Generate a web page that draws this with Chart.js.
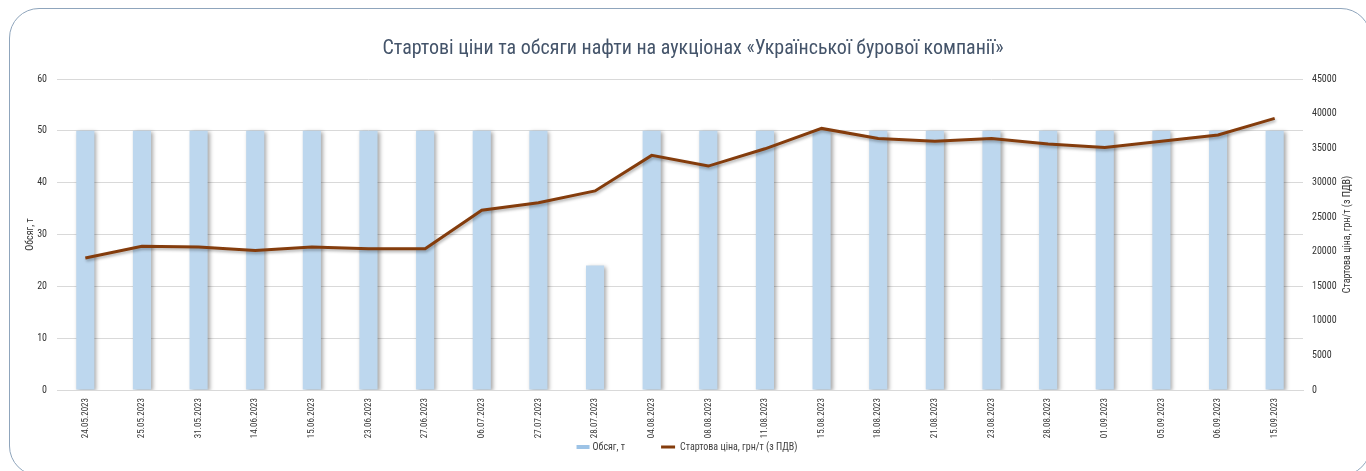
<!DOCTYPE html>
<html>
<head>
    <title>Стартові ціни та обсяги нафти</title>
    <script src="https://cdn.jsdelivr.net/npm/chart.js@4/dist/chart.umd.min.js"></script>
    <style>
        body { margin: 0; background: #fff; overflow: hidden; }
        #wrap { position: relative; width: 1366px; height: 471px; }
        #frame {
            position: absolute; left: 9px; top: 8px; width: 1362px; height: 468px;
            border: 1px solid #8FA5BC; border-radius: 30px; box-sizing: border-box;
        }
        canvas { position: absolute; left: 0; top: 0; }
    </style>
</head>
<body>
<div id="wrap">
    <div id="frame"></div>
    <canvas id="myChart" width="1366" height="471"></canvas>
</div>
<script>
    var dates = ['24.05.2023', '25.05.2023', '31.05.2023', '14.06.2023', '15.06.2023', '23.06.2023',
        '27.06.2023', '06.07.2023', '27.07.2023', '28.07.2023', '04.08.2023', '08.08.2023',
        '11.08.2023', '15.08.2023', '18.08.2023', '21.08.2023', '23.08.2023', '28.08.2023',
        '01.09.2023', '05.09.2023', '06.09.2023', '15.09.2023'];
    var volume = [50, 50, 50, 50, 50, 50, 50, 50, 50, 24, 50, 50, 50, 50, 50, 50, 50, 50, 50, 50, 50, 50];
    var price = [19100, 20800, 20700, 20200, 20700, 20450, 20450, 26000, 27100, 28800, 33950, 32400,
        34900, 37850, 36400, 36000, 36400, 35600, 35100, 36000, 36900, 39300];

    var chartTitle = 'Стартові ціни та обсяги нафти на аукціонах «Української бурової компанії»';
    var leftTitle = 'Обсяг, т';
    var rightTitle = 'Стартова ціна, грн/т (з ПДВ)';

    var fontFam = '"Roboto Condensed", Roboto, sans-serif';
    var textColor = '#333333';

    // shadow under bars and the line
    var shadowPlugin = {
        id: 'shadows',
        beforeDatasetDraw: function (chart, args) {
            var c = chart.ctx;
            c.save();
            if (args.meta.type === 'bar') {
                c.shadowColor = 'rgba(0,0,0,0.35)';
                c.shadowBlur = 4;
                c.shadowOffsetX = 2;
                c.shadowOffsetY = 1;
            } else {
                c.shadowColor = 'rgba(0,0,0,0.3)';
                c.shadowBlur = 3;
                c.shadowOffsetX = 1;
                c.shadowOffsetY = 2;
            }
        },
        afterDatasetDraw: function (chart) {
            chart.ctx.restore();
        }
    };

    // right axis title (bottom-to-top) and the legend under the axis labels
    var extrasPlugin = {
        id: 'extras',
        afterDraw: function (chart) {
            var c = chart.ctx;
            var area = chart.chartArea;
            c.save();
            c.font = '10px ' + fontFam;
            c.fillStyle = textColor;
            c.textBaseline = 'middle';

            c.save();
            c.translate(1347, (area.top + area.bottom) / 2);
            c.rotate(-Math.PI / 2);
            c.textAlign = 'center';
            c.fillText(rightTitle, 0, 0);
            c.restore();

            var ds = chart.data.datasets;
            var sw = [13, 14], sh = [4, 3], cols = ['#9DC3E6', '#843C0C'];
            var w0 = c.measureText(ds[0].label).width;
            var w1 = c.measureText(ds[1].label).width;
            var total = sw[0] + 3 + w0 + 36 + sw[1] + 5 + w1;
            var x = 687 - total / 2;
            var y = 447;
            c.textAlign = 'left';
            c.fillStyle = cols[0];
            c.fillRect(x, y - sh[0] / 2, sw[0], sh[0]);
            x += sw[0] + 3;
            c.fillStyle = '#404040';
            c.fillText(ds[0].label, x, y);
            x += w0 + 36;
            c.fillStyle = cols[1];
            c.fillRect(x, y - sh[1] / 2, sw[1], sh[1]);
            x += sw[1] + 5;
            c.fillStyle = '#404040';
            c.fillText(ds[1].label, x, y);
            c.restore();
        }
    };

    var ctx = document.getElementById('myChart').getContext('2d');
    var chart = new Chart(ctx, {
        type: 'bar',
        data: {
            labels: dates,
            datasets: [{
                type: 'bar',
                label: 'Обсяг, т',
                data: volume,
                yAxisID: 'y',
                backgroundColor: '#BDD7EE',
                borderWidth: 0,
                barPercentage: 0.32,
                categoryPercentage: 1,
                order: 1
            }, {
                type: 'line',
                label: 'Стартова ціна, грн/т (з ПДВ)',
                data: price,
                yAxisID: 'y1',
                borderColor: '#843C0C',
                backgroundColor: '#843C0C',
                borderWidth: 3,
                pointRadius: 0,
                tension: 0,
                fill: false,
                order: 0
            }]
        },
        options: {
            responsive: false,
            animation: false,
            layout: { padding: { left: 20, right: 0, top: 0, bottom: 21 } },
            plugins: {
                title: {
                    display: true,
                    text: chartTitle,
                    color: '#44546A',
                    font: { family: fontFam, size: 20, weight: 'normal', lineHeight: 1.2 },
                    padding: { top: 37, bottom: 18 }
                },
                legend: { display: false },
                tooltip: { enabled: false }
            },
            scales: {
                x: {
                    grid: { display: false },
                    border: { display: true, color: '#D9D9D9' },
                    ticks: {
                        color: textColor,
                        font: { family: fontFam, size: 9 },
                        maxRotation: 90,
                        minRotation: 90,
                        padding: 0,
                        autoSkip: false
                    },
                    afterFit: function (scale) { scale.height = 60; }
                },
                y: {
                    position: 'left',
                    min: 0,
                    max: 60,
                    ticks: {
                        stepSize: 10,
                        color: textColor,
                        font: { family: fontFam, size: 10 },
                        padding: 10,
                        callback: function (v) { return String(v); }
                    },
                    grid: { color: '#D9D9D9', drawTicks: false },
                    border: { display: false },
                    title: {
                        display: true,
                        text: leftTitle,
                        color: textColor,
                        font: { family: fontFam, size: 10 },
                        padding: { top: 4, bottom: 4 }
                    },
                    afterFit: function (scale) { scale.width = 37; }
                },
                y1: {
                    position: 'right',
                    min: 0,
                    max: 45000,
                    ticks: {
                        stepSize: 5000,
                        color: textColor,
                        font: { family: fontFam, size: 10 },
                        padding: 9,
                        callback: function (v) { return String(v); }
                    },
                    grid: { display: false, drawTicks: false },
                    border: { display: false },
                    afterFit: function (scale) { scale.width = 63; }
                }
            }
        },
        plugins: [shadowPlugin, extrasPlugin]
    });
</script>
</body>
</html>
